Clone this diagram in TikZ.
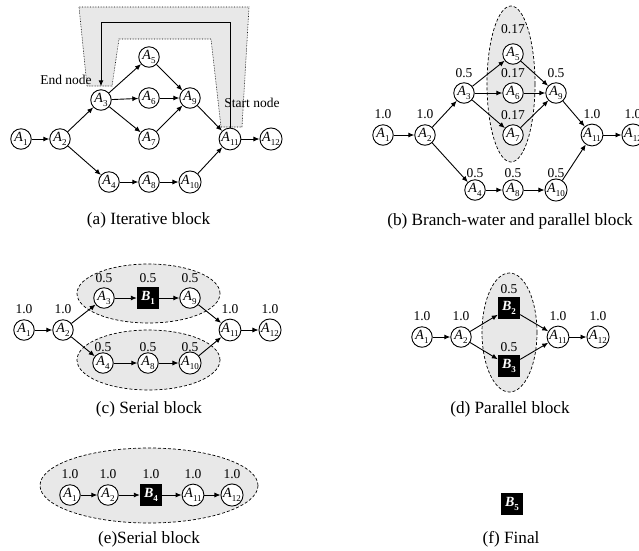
\documentclass[tikz,border=0pt]{standalone}
\usepackage{fontspec}
\setmainfont{Liberation Serif}
\usetikzlibrary{arrows.meta}
\newcommand{\nA}[1]{\textit{A}\kern0.2pt\raisebox{-0.28em}{\fontsize{9}{9}\selectfont #1}}
\newcommand{\nB}[1]{\textbf{\textit{B}}\raisebox{-0.28em}{\fontsize{9}{9}\selectfont\bfseries #1}}
\tikzset{
 an/.style={draw, circle, fill=white, minimum size=20.5pt, inner sep=0pt, line width=0.9pt, font=\fontsize{14}{14}\selectfont},
 bn/.style={fill=black, text=white, minimum size=22pt, inner sep=0pt, font=\fontsize{14}{14}\selectfont},
 lbl/.style={inner sep=0pt, font=\fontsize{13.5}{13.5}\selectfont},
 captxt/.style={inner sep=0pt, font=\fontsize{17.2}{17.2}\selectfont},
 arr/.style={-{Latex[length=6pt,width=5pt]}, line width=0.9pt},
 blob/.style={draw, dash pattern=on 3pt off 2pt, fill=black!9, line width=0.7pt},
 loopzone/.style={draw, densely dotted, fill=black!9, line width=0.6pt},
}
\begin{document}
\begin{tikzpicture}[x=1pt, y=-1pt]
\useasboundingbox (0,0) rectangle (639,550);
% ---------- (a) ----------
\draw[loopzone] (79,7) -- (249,7) -- (242,127) -- (221,127) -- (211,39) -- (119,39) -- (112,86) -- (87,86) -- cycle;
\node[an] (a1) at (21,139) {\nA{1}};
\node[an] (a2) at (60,139) {\nA{2}};
\node[an] (a3) at (101,100) {\nA{3}};
\node[an] (a5) at (149,57) {\nA{5}};
\node[an] (a6) at (149,98) {\nA{6}};
\node[an] (a7) at (149,139) {\nA{7}};
\node[an] (a9) at (190,98) {\nA{9}};
\node[an] (a11) at (230,139) {\nA{11}};
\node[an] (a12) at (271,139) {\nA{12}};
\node[an] (a4) at (109,182) {\nA{4}};
\node[an] (a8) at (149,182) {\nA{8}};
\node[an] (a10) at (190,182) {\nA{10}};
\coordinate (atop) at (0,22);
\draw[arr, shorten >=3pt] (a11.north) |- (a3.north |- atop) -- (a3.north);
\foreach \s/\t in {a1/a2,a2/a3,a2/a4,a3/a5,a3/a6,a3/a7,a5/a9,a6/a9,a7/a9,a9/a11,a4/a8,a8/a10,a10/a11,a11/a12}
  \draw[arr] (\s) -- (\t);
\node[lbl] (aend) at (66,80) {End node};
\node[lbl] (astart) at (252,103) {Start node};
\node[captxt] (capa) at (148.5,220) {(a) Iterative block};
% ---------- (b) ----------
\draw[blob] (511,84) ellipse [x radius=24pt, y radius=78pt];
\node[an] (b1) at (383,135) {\nA{1}};
\node[an] (b2) at (425,135) {\nA{2}};
\node[an] (b3) at (464,93) {\nA{3}};
\node[an] (b5) at (513,54) {\nA{5}};
\node[an] (b6) at (513,93) {\nA{6}};
\node[an] (b7) at (513,135) {\nA{7}};
\node[an] (b9) at (556,93) {\nA{9}};
\node[an] (b11) at (592,135) {\nA{11}};
\node[an] (b12) at (633,135) {\nA{12}};
\node[an] (b4) at (475,190) {\nA{4}};
\node[an] (b8) at (513,190) {\nA{8}};
\node[an] (b10) at (556,190) {\nA{10}};
\foreach \s/\t in {b1/b2,b2/b3,b2/b4,b3/b5,b3/b6,b3/b7,b5/b9,b6/b9,b7/b9,b9/b11,b4/b8,b8/b10,b10/b11,b11/b12}
  \draw[arr] (\s) -- (\t);
\node[lbl] (lb1) at (383,114) {1.0};
\node[lbl] (lb2) at (425,114) {1.0};
\node[lbl] (lb3) at (464,73) {0.5};
\node[lbl] (lb5) at (513,29) {0.17};
\node[lbl] (lb6) at (513,73) {0.17};
\node[lbl] (lb7) at (513,115) {0.17};
\node[lbl] (lb9) at (556,73) {0.5};
\node[lbl] (lb11) at (592,114) {1.0};
\node[lbl] (lb12) at (633,114) {1.0};
\node[lbl] (lb4) at (475,173) {0.5};
\node[lbl] (lb8) at (513,173) {0.5};
\node[lbl] (lb10) at (556,173) {0.5};
\node[captxt] (capb) at (510,221) {(b) Branch-water and parallel block};
% ---------- (c) ----------
\draw[blob] (148.5,293.5) ellipse [x radius=71.5pt, y radius=29.5pt];
\draw[blob] (148.5,360) ellipse [x radius=71.5pt, y radius=30pt];
\node[an] (c1) at (24,330) {\nA{1}};
\node[an] (c2) at (63,330) {\nA{2}};
\node[an] (c3) at (104,298) {\nA{3}};
\node[bn] (cb1) at (148,298) {\nB{1}};
\node[an] (c9) at (190,298) {\nA{9}};
\node[an] (c4) at (103,363) {\nA{4}};
\node[an] (c8) at (148,363) {\nA{8}};
\node[an] (c10) at (190,363) {\nA{10}};
\node[an] (c11) at (230,330) {\nA{11}};
\node[an] (c12) at (270,330) {\nA{12}};
\foreach \s/\t in {c1/c2,c2/c3,c2/c4,c3/cb1,cb1/c9,c9/c11,c4/c8,c8/c10,c10/c11,c11/c12}
  \draw[arr] (\s) -- (\t);
\node[lbl] (lc1) at (24,309) {1.0};
\node[lbl] (lc2) at (63,309) {1.0};
\node[lbl] (lc3) at (104,278) {0.5};
\node[lbl] (lcb1) at (148,278) {0.5};
\node[lbl] (lc9) at (190,278) {0.5};
\node[lbl] (lc4) at (103,347) {0.5};
\node[lbl] (lc8) at (148,347) {0.5};
\node[lbl] (lc10) at (190,347) {0.5};
\node[lbl] (lc11) at (230,309) {1.0};
\node[lbl] (lc12) at (270,309) {1.0};
\node[captxt] (capc) at (149,409) {(c) Serial block};
% ---------- (d) ----------
\draw[blob] (509.5,332.5) ellipse [x radius=27.5pt, y radius=59.5pt];
\node[an] (d1) at (422,337) {\nA{1}};
\node[an] (d2) at (461,337) {\nA{2}};
\node[bn] (db2) at (509,308) {\nB{2}};
\node[bn] (db3) at (509,366) {\nB{3}};
\node[an] (d11) at (558,337) {\nA{11}};
\node[an] (d12) at (598,337) {\nA{12}};
\foreach \s/\t in {d1/d2,d2/db2,d2/db3,db2/d11,db3/d11,d11/d12}
  \draw[arr] (\s) -- (\t);
\node[lbl] (ld1) at (422,316) {1.0};
\node[lbl] (ld2) at (461,316) {1.0};
\node[lbl] (ld11) at (558,316) {1.0};
\node[lbl] (ld12) at (598,316) {1.0};
\node[lbl] (ldb2) at (509,289) {0.5};
\node[lbl] (ldb3) at (509,347) {0.5};
\node[captxt] (capd) at (510,409) {(d) Parallel block};
% ---------- (e) ----------
\draw[blob] (149,485.5) ellipse [x radius=109pt, y radius=37.5pt];
\node[an] (e1) at (70,495) {\nA{1}};
\node[an] (e2) at (108,495) {\nA{2}};
\node[bn] (eb4) at (151,495) {\nB{4}};
\node[an] (e11) at (193,495) {\nA{11}};
\node[an] (e12) at (232,495) {\nA{12}};
\foreach \s/\t in {e1/e2,e2/eb4,eb4/e11,e11/e12}
  \draw[arr] (\s) -- (\t);
\node[lbl] (le1) at (70,474) {1.0};
\node[lbl] (le2) at (108,474) {1.0};
\node[lbl] (leb4) at (151,474) {1.0};
\node[lbl] (le11) at (193,474) {1.0};
\node[lbl] (le12) at (232,474) {1.0};
\node[captxt] (cape) at (149,539) {(e)Serial block};
% ---------- (f) ----------
\node[bn] (fb5) at (512,504) {\nB{5}};
\node[captxt] (capf) at (511,539) {(f) Final};
\end{tikzpicture}
\end{document}
